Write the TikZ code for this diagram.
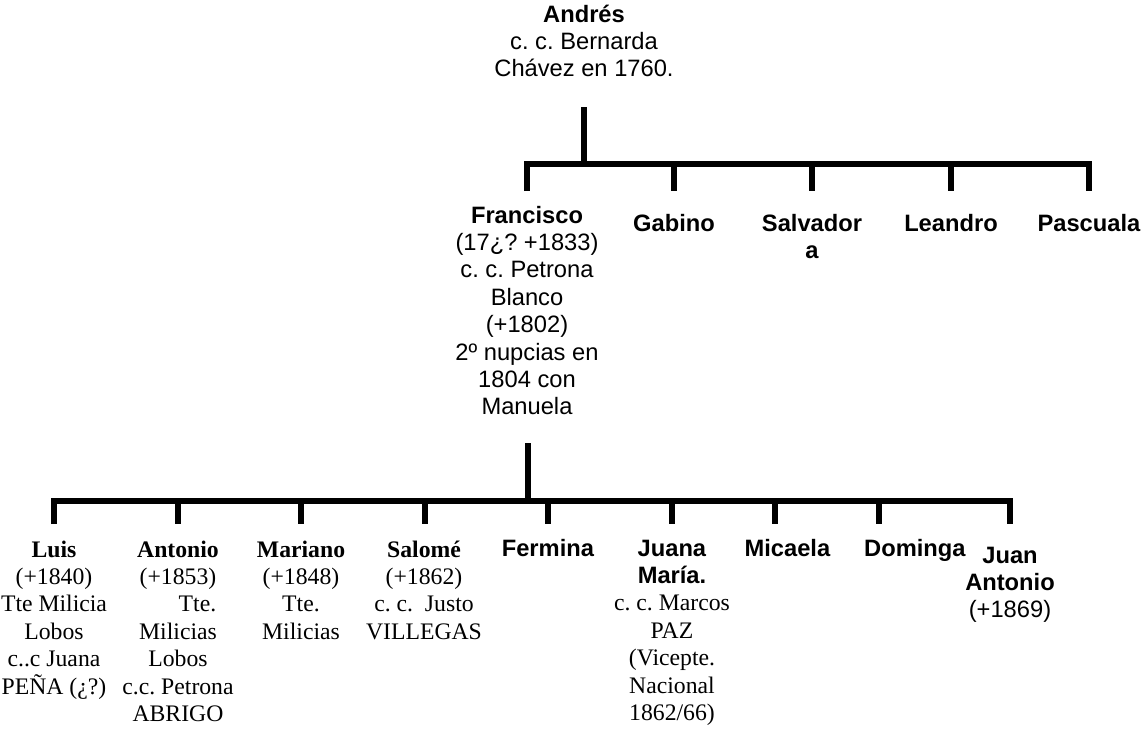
\documentclass[tikz,border=0pt]{standalone}
\usepackage{fontspec}
\setmainfont{Liberation Sans}
\newfontfamily\tnr{Liberation Serif}
\tikzset{
  person/.style={align=center, inner sep=0pt, anchor=north,
    font=\fontsize{23.7}{27.4}\selectfont\frenchspacing},
  serif/.style={font=\tnr\fontsize{23.7}{27.4}\selectfont\frenchspacing},
  bar/.style={line width=6pt, line join=miter},
}
\begin{document}
\begin{tikzpicture}[x=1pt,y=-1pt]
\useasboundingbox (0,0) rectangle (1141,729);
% generation 1
\node[person] (andres) at (584,2.8) {\strut\textbf{Andrés}\\c. c. Bernarda\\Chávez en 1760.};
% generation 2
\node[person] (francisco) at (527,203.8) {\strut\textbf{Francisco}\\(17¿? +1833)\\c. c. Petrona\\Blanco\\(+1802)\\2º nupcias en\\1804 con\\Manuela};
\node[person] (gabino) at (674,211.8) {\strut\textbf{Gabino}};
\node[person] (salvador) at (812,211.8) {\strut\textbf{Salvador}\\\textbf{a}};
\node[person] (leandro) at (951,211.8) {\strut\textbf{Leandro}};
\node[person] (pascuala) at (1089,211.8) {\strut\textbf{Pascuala}};
% generation 3
\node[person,serif] (luis) at (54,537.8) {\strut\textbf{Luis}\\(+1840)\\Tte Milicia\\Lobos\\c..c Juana\\PEÑA (¿?)};
\node[person,serif] (antonio) at (178,537.8) {\strut\textbf{Antonio}\\(+1853)\\\hspace*{39pt}Tte.\\Milicias\\Lobos\\c.c. Petrona\\ABRIGO};
\node[person,serif] (mariano) at (301,537.8) {\strut\textbf{Mariano}\\(+1848)\\Tte.\\Milicias};
\node[person,serif] (salome) at (424,537.8) {\strut\textbf{Salomé}\\(+1862)\\c. c.\ \ Justo\\VILLEGAS};
\node[person] (fermina) at (548,536.8) {\strut\textbf{Fermina}};
\node[person] (juana) at (672,536.8) {\strut\textbf{Juana}\\\textbf{María.}\\{\tnr c. c. Marcos}\\{\tnr PAZ}\\{\tnr (Vicepte.}\\{\tnr Nacional}\\{\tnr 1862/66)}};
\node[person] (micaela) at (787.5,536.8) {\strut\textbf{Micaela}};
\node[person] (dominga) at (915,536.8) {\strut\textbf{Dominga}};
\node[person] (juanantonio) at (1010,543.8) {\strut\textbf{Juan}\\\textbf{Antonio}\\(+1869)};
% junction points
\coordinate (andresstem) at (584,107);
\coordinate (bar1) at (584,164);
\coordinate (franciscostem) at (528,443);
\coordinate (bar2) at (528,501);
% connectors generation 1 -> 2
\draw[bar] (andresstem) -- (bar1);
\draw[bar] (francisco.north |- 0,191) -- (francisco.north |- bar1) -- (pascuala.north |- bar1) -- (pascuala.north |- 0,191);
\foreach \c in {gabino,salvador,leandro}
  \draw[bar] (\c.north |- bar1) -- (\c.north |- 0,191);
% connectors generation 2 -> 3
\draw[bar] (franciscostem) -- (bar2);
\draw[bar] (luis.north |- 0,524) -- (luis.north |- bar2) -- (juanantonio.north |- bar2) -- (juanantonio.north |- 0,524);
\foreach \x in {178,301,425,548,672,775,879}
  \draw[bar] (\x,501) -- (\x,524);
\end{tikzpicture}
\end{document}
